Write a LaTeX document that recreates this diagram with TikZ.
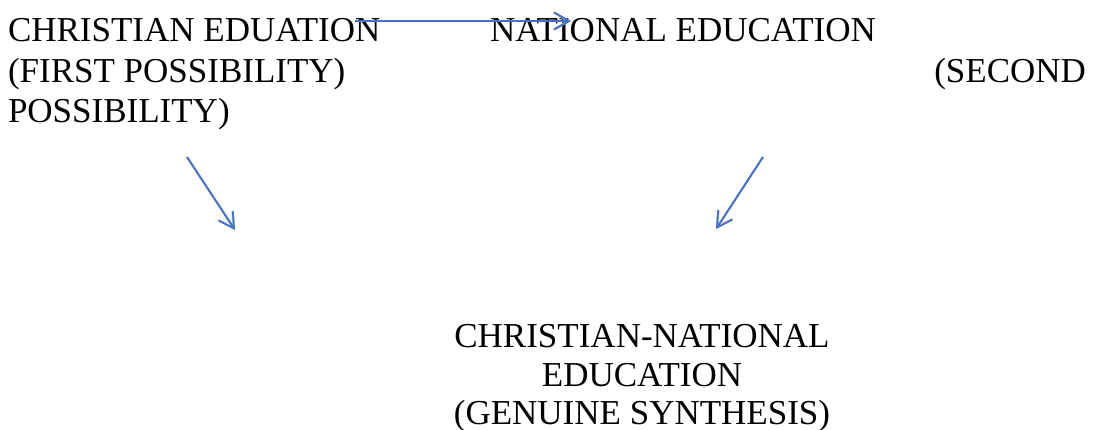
\documentclass[tikz,border=0pt]{standalone}
\usepackage{fontspec}
\setmainfont{Liberation Serif}
\usetikzlibrary{arrows.meta}
\definecolor{arrowblue}{RGB}{68,114,196}
\definecolor{shadowgray}{RGB}{195,195,195}
\tikzset{
  label text/.style={inner sep=0pt, outer sep=0pt, font=\fontsize{35bp}{40bp}\selectfont},
  flow/.style={draw=arrowblue, line width=1.8bp, -{Straight Barb[length=15bp,width=17bp,line width=1.8bp]}},
  flowshadow/.style={draw=shadowgray, line width=2.4bp, -{Straight Barb[length=15bp,width=17bp,line width=2.4bp]}}
}
\begin{document}
\begin{tikzpicture}[x=1bp,y=-1bp]
  \useasboundingbox (0,0) rectangle (1093,429);
  % upper block, set as justified running text
  \node[label text, anchor=base west] (christian) at (8,41) {CHRISTIAN EDUATION};
  \node[label text, anchor=base west] (national) at (490,41) {NATIONAL EDUCATION};
  \node[label text, anchor=base west] (first) at (8,82) {(FIRST POSSIBILITY)};
  \node[label text, anchor=base east] (second) at (1086,82) {(SECOND};
  \node[label text, anchor=base west] (second2) at (8,122) {POSSIBILITY)};
  % synthesis
  \node[label text, anchor=base] (cn) at (642,347) {CHRISTIAN-NATIONAL};
  \node[label text, anchor=base] (edu) at (642,386) {EDUCATION};
  \node[label text, anchor=base] (syn) at (642,424) {(GENUINE SYNTHESIS)};
  % arrow end points
  \coordinate (a1s) at (355,21);
  \coordinate (a1e) at (571,21);
  \coordinate (a2s) at (187,157);
  \coordinate (a2e) at (235,230);
  \coordinate (a3s) at (763,157);
  \coordinate (a3e) at (716,229);
  % soft drop shadows
  \foreach \s/\e in {a1s/a1e, a2s/a2e, a3s/a3e}
    \draw[flowshadow, shift={(2,3)}] (\s) -- (\e);
  % arrows
  \draw[flow] (a1s) -- (a1e);
  \draw[flow] (a2s) -- (a2e);
  \draw[flow] (a3s) -- (a3e);
\end{tikzpicture}
\end{document}
